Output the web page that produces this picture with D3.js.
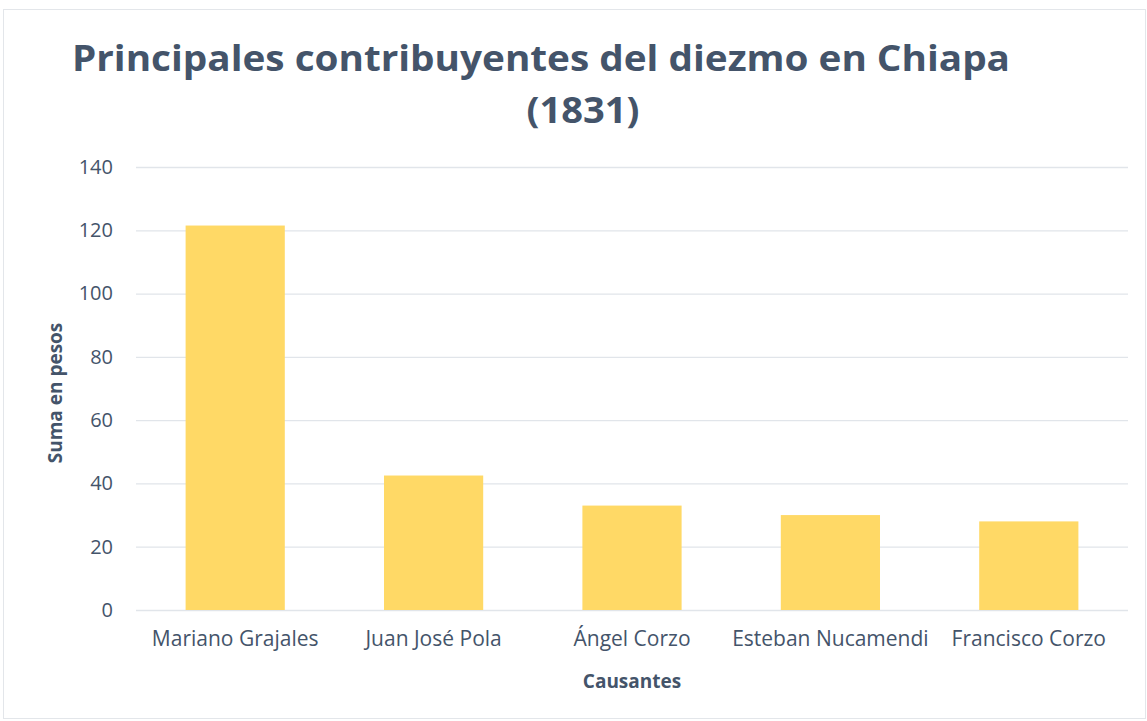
<!DOCTYPE html>
<html>
<head>
<meta charset="utf-8">
<script src="https://d3js.org/d3.v7.min.js"></script>
<style>
  body { margin: 0; background: #fff; }
  text { font-family: "Open Sans", Lato, sans-serif; fill: #44546a; }
</style>
</head>
<body>
<div id="chart"></div>
<script>
// data
var causantes = ['Mariano Grajales', 'Juan José Pola', 'Ángel Corzo', 'Esteban Nucamendi', 'Francisco Corzo'];
var pesos = [121.5, 42.5, 33, 30, 28];
var yTicks = [0, 20, 40, 60, 80, 100, 120, 140];

var width = 1147, height = 721,
	margin = {top: 167, bottom: 111, left: 136, right: 19};

var svg = d3.select('#chart').append('svg')
	.attr('width', width)
	.attr('height', height);

// chart frame
svg.append('rect')
	.attr('x', 3.5).attr('y', 9.5)
	.attr('width', width - 5).attr('height', height - 12)
	.attr('fill', 'none')
	.attr('stroke', '#e3e6ea');

var x = d3.scaleBand()
	.domain(causantes)
	.range([margin.left, width - margin.right])
	.paddingInner(0.5)
	.paddingOuter(0.25);

var y = d3.scaleLinear()
	.domain([0, 140])
	.range([height - margin.bottom, margin.top]);

// gridlines
svg.append('g')
	.selectAll('line')
	.data(yTicks)
	.enter()
	.append('line')
		.attr('x1', margin.left)
		.attr('x2', width - margin.right)
		.attr('y1', function(d){ return y(d) + 0.5 })
		.attr('y2', function(d){ return y(d) + 0.5 })
		.attr('stroke', '#e1e5ea')
		.attr('stroke-width', 1.3);

// bars
svg.append('g')
	.selectAll('rect')
	.data(pesos)
	.enter()
	.append('rect')
		.attr('x', function(d, i){ return x(causantes[i]) })
		.attr('y', function(d){ return y(d) })
		.attr('width', x.bandwidth())
		.attr('height', function(d){ return y(0) - y(d) })
		.attr('fill', '#ffd966');

// y axis labels
var yAxis = svg.append('g')
	.attr('transform', 'translate(' + (margin.left - 23) + ',0)')
	.call(d3.axisLeft(y).tickValues(yTicks).tickSize(0).tickPadding(0));
yAxis.select('.domain').remove();
yAxis.selectAll('text')
	.attr('font-size', 20)
	.attr('font-family', null)
	.style('fill', '#44546a');

// x axis labels
var xAxis = svg.append('g')
	.attr('transform', 'translate(0,' + (height - margin.bottom) + ')')
	.call(d3.axisBottom(x).tickSize(0).tickPadding(21));
xAxis.select('.domain').remove();
xAxis.selectAll('text')
	.attr('font-size', 21)
	.attr('font-family', null)
	.style('fill', '#44546a');

// titles
svg.append('text')
	.attr('x', 541).attr('y', 71)
	.attr('text-anchor', 'middle')
	.attr('font-size', 36)
	.attr('font-weight', 'bold')
	.attr('textLength', 938)
	.attr('lengthAdjust', 'spacingAndGlyphs')
	.text('Principales contribuyentes del diezmo en Chiapa');
svg.append('text')
	.attr('x', 583).attr('y', 123)
	.attr('text-anchor', 'middle')
	.attr('font-size', 36)
	.attr('font-weight', 'bold')
	.attr('textLength', 113)
	.attr('lengthAdjust', 'spacingAndGlyphs')
	.text('(1831)');

svg.append('text')
	.attr('x', 632).attr('y', 688)
	.attr('text-anchor', 'middle')
	.attr('font-size', 19)
	.attr('font-weight', 'bold')
	.text('Causantes');

svg.append('text')
	.attr('transform', 'translate(62,' + 393 + ') rotate(-90)')
	.attr('text-anchor', 'middle')
	.attr('font-size', 19)
	.attr('font-weight', 'bold')
	.text('Suma en pesos');
</script>
</body>
</html>
